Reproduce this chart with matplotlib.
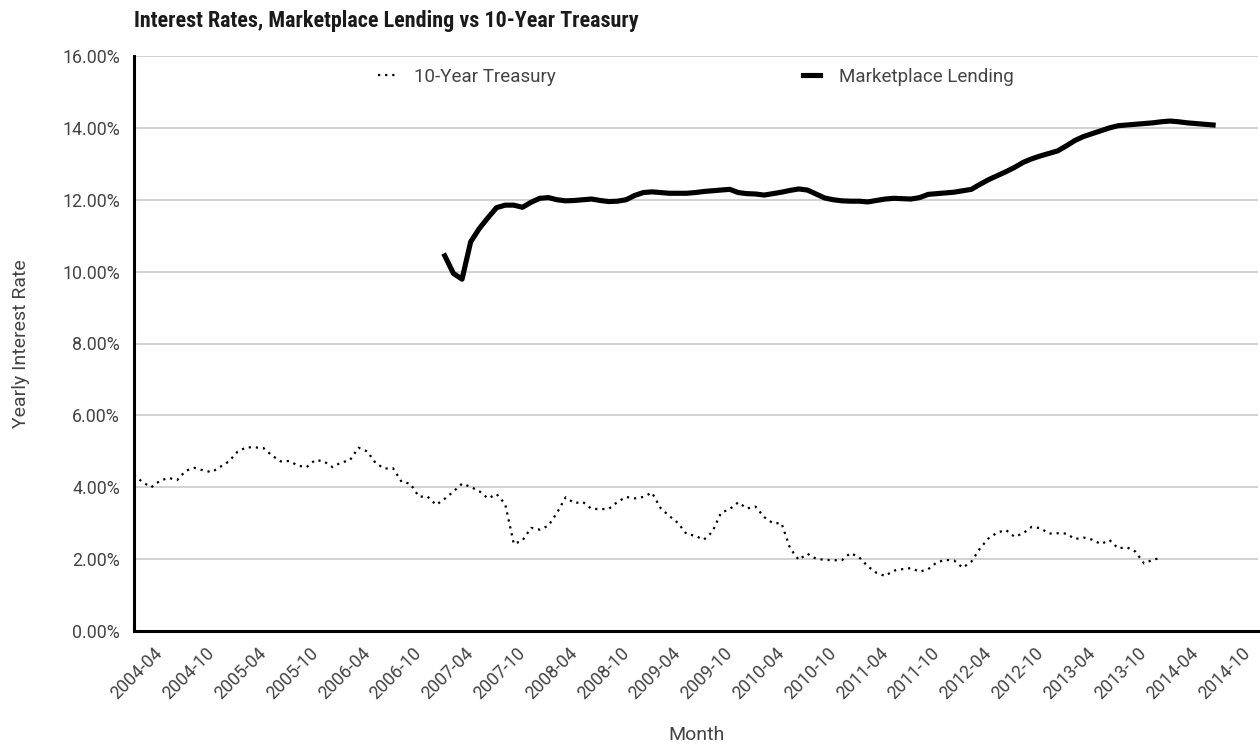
import matplotlib
matplotlib.use("Agg")
import matplotlib.pyplot as plt
from matplotlib import font_manager
from matplotlib.lines import Line2D
from matplotlib.ticker import FuncFormatter
from matplotlib.transforms import ScaledTranslation
import pandas as pd

# --- Daten (Werte in Prozent) ---
achse_start = "2004-01"      # erste Kategorie der x-Achse
achse_ende = "2014-11"       # letzte Kategorie der x-Achse

treasury_start = "2004-01"
treasury = [
    4.34, 4.14, 4.00, 4.18, 4.26, 4.20, 4.46, 4.54, 4.47,
    4.42, 4.57, 4.72, 4.99, 5.11, 5.11, 5.09, 4.88, 4.72, 4.73, 4.60, 4.56,
    4.76, 4.72, 4.56, 4.69, 4.75, 5.10, 5.00, 4.67, 4.52, 4.53, 4.15, 4.10,
    3.74, 3.74, 3.51, 3.68, 3.88, 4.10, 4.01, 3.89, 3.69, 3.81, 3.53, 2.42,
    2.52, 2.87, 2.82, 2.93, 3.29, 3.72, 3.56, 3.59, 3.40, 3.39, 3.40, 3.59,
    3.73, 3.69, 3.73, 3.85, 3.42, 3.20, 3.01, 2.70, 2.65, 2.54, 2.76, 3.29,
    3.39, 3.58, 3.41, 3.46, 3.17, 3.00, 3.00, 2.30, 1.98, 2.15, 2.01, 1.98,
    1.97, 1.97, 2.17, 2.05, 1.80, 1.62, 1.53, 1.68, 1.72, 1.75, 1.65, 1.72,
    1.91, 1.98, 1.96, 1.76, 1.93, 2.30, 2.58, 2.74, 2.81, 2.62, 2.72, 2.90,
    2.86, 2.71, 2.72, 2.71, 2.56, 2.60, 2.54, 2.42, 2.53, 2.30, 2.33, 2.21,
    1.88, 1.98, 2.04,
]

lending_start = "2007-01"
lending = [
    10.44, 9.95, 9.79, 10.83, 11.20, 11.50, 11.78, 11.85, 11.85, 11.79,
    11.93, 12.04, 12.06, 12.00, 11.97, 11.98, 12.00, 12.02, 11.98, 11.95,
    11.96, 12.00, 12.12, 12.20, 12.22, 12.20, 12.18, 12.18, 12.18, 12.20,
    12.23, 12.25, 12.27, 12.29, 12.20, 12.17, 12.16, 12.13, 12.17, 12.21,
    12.26, 12.30, 12.27, 12.16, 12.05, 12.00, 11.97, 11.96, 11.96, 11.94,
    11.98, 12.02, 12.04, 12.03, 12.02, 12.06, 12.15, 12.17, 12.19, 12.21,
    12.25, 12.29, 12.43, 12.56, 12.67, 12.78, 12.90, 13.04, 13.14, 13.22,
    13.29, 13.36, 13.50, 13.65, 13.76, 13.84, 13.92, 14.00, 14.06, 14.08,
    14.10, 14.12, 14.14, 14.17, 14.19, 14.17, 14.14, 14.12, 14.10, 14.08,
]

tick_labels = [
    "2004-04", "2004-10", "2005-04", "2005-10", "2006-04", "2006-10",
    "2007-04", "2007-10", "2008-04", "2008-10", "2009-04", "2009-10",
    "2010-04", "2010-10", "2011-04", "2011-10", "2012-04", "2012-10",
    "2013-04", "2013-10", "2014-04", "2014-10",
]
y_ticks = [0, 2, 4, 6, 8, 10, 12, 14, 16]


def monat_index(monat: str) -> int:
    """Position eines Monats auf der Kategorienachse."""
    return (pd.Period(monat, "M") - pd.Period(achse_start, "M")).n


def erste_schrift(kandidaten, fallback="DejaVu Sans"):
    """Erste installierte Schrift aus der Liste."""
    for name in kandidaten:
        try:
            font_manager.findfont(font_manager.FontProperties(family=name),
                                  fallback_to_default=False)
            return name
        except Exception:
            continue
    return fallback


schrift = erste_schrift(["Roboto", "Open Sans"])
titel_schrift = erste_schrift(["Roboto Condensed", "Liberation Sans Narrow", "Roboto"])
plt.rcParams["font.family"] = [schrift, "DejaVu Sans"]

text_farbe = "#444444"
punkt_stil = (0, (1, 2.2))

# --- Diagramm erstellen ---
fig = plt.figure(figsize=(12.6, 7.44), dpi=100)
ax = fig.add_axes([134 / 1260, 1 - 631 / 744, (1258 - 134) / 1260, (631 - 56) / 744])

x_t = [monat_index(treasury_start) + i for i in range(len(treasury))]
x_l = [monat_index(lending_start) + i for i in range(len(lending))]

ax.plot(x_t, treasury, color="black", linewidth=1.6, linestyle=punkt_stil,
        dash_capstyle="butt", label="10-Year Treasury")
ax.plot(x_l, lending, color="black", linewidth=3.7, solid_joinstyle="round",
        label="Marketplace Lending")

ax.set_xlim(0, monat_index(achse_ende) + 0.2)
ax.set_ylim(0, 16)
ax.set_yticks(y_ticks)
ax.yaxis.set_major_formatter(FuncFormatter(lambda v, _: f"{v:.2f}%"))
ax.set_xticks([monat_index(m) for m in tick_labels])
ax.set_xticklabels(tick_labels, rotation=45, ha="right", va="center",
                   rotation_mode="anchor")

# gedrehte Beschriftungen etwas nach links schieben
verschiebung = ScaledTranslation(-4 / 72, 0, fig.dpi_scale_trans)
for lbl in ax.get_xticklabels():
    lbl.set_transform(lbl.get_transform() + verschiebung)

ax.grid(axis="y", color="#c6c6c6", linewidth=1.1)
ax.set_axisbelow(True)
for seite in ["top", "right"]:
    ax.spines[seite].set_visible(False)
for seite in ["left", "bottom"]:
    ax.spines[seite].set_linewidth(2.2)
    ax.spines[seite].set_color("black")
ax.tick_params(axis="both", length=0, labelsize=12.8, colors=text_farbe)
ax.tick_params(axis="x", pad=14)
ax.tick_params(axis="y", pad=10)

# Beschriftungen
ax.set_xlabel("Month", fontsize=14, color=text_farbe, labelpad=17)
ax.set_ylabel("Yearly Interest Rate", fontsize=14, color=text_farbe, labelpad=23)
fig.text(134 / 1260, 1 - 21 / 744, "Interest Rates, Marketplace Lending vs 10-Year Treasury",
         fontsize=15.8, fontweight="bold", family=titel_schrift, color="#1a1a1a",
         ha="left", va="center")

handles = [
    Line2D([], [], color="black", linewidth=1.6, linestyle=punkt_stil),
    Line2D([], [], color="black", linewidth=3.7),
]
ax.legend(handles, ["10-Year Treasury", "Marketplace Lending"], loc="center",
          bbox_to_anchor=(0.5, 1 - 21 / 575), ncol=2, frameon=False, fontsize=13.5,
          handlelength=0.9, handletextpad=1.0, columnspacing=13.2,
          labelcolor=text_farbe)

fig.savefig("out.png", dpi=100)
